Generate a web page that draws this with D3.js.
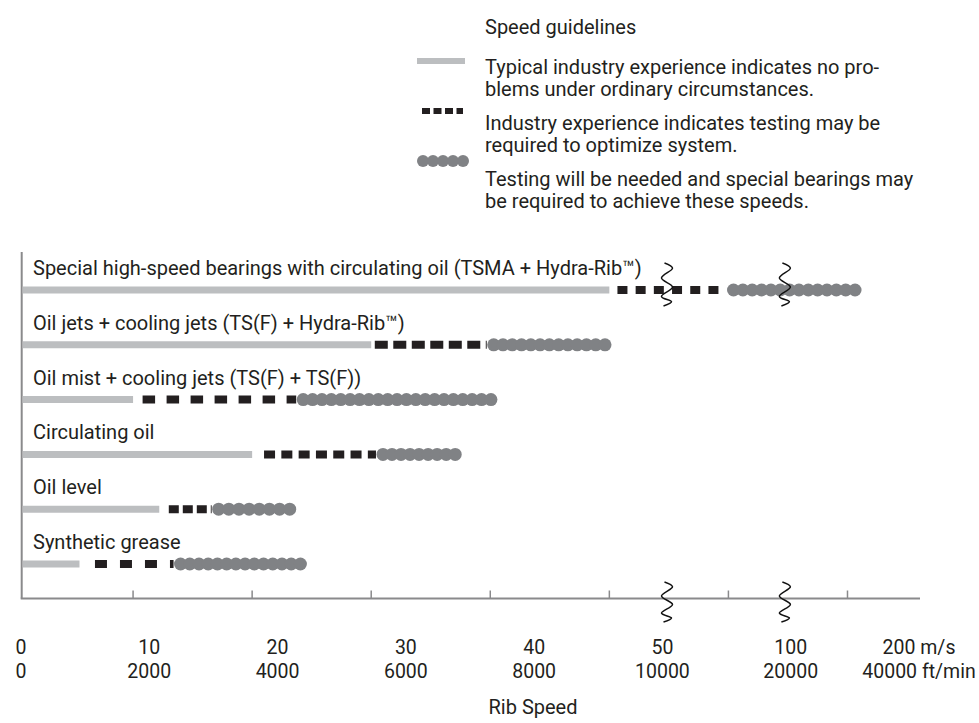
<!DOCTYPE html>
<html><head><meta charset="utf-8">
<script src="https://cdn.jsdelivr.net/npm/d3@7"></script>
<style>
body{margin:0;background:#fff}
svg{display:block}
text{font-family:Roboto,"Liberation Sans",sans-serif;fill:#231f20;font-size:20px}
text.mps,text.fpm{font-size:19.5px}
</style>
</head><body>
<svg id="chart" width="979" height="723"></svg>
<script>
// ---- data ----
const categories = [
  "Special high-speed bearings with circulating oil (TSMA + Hydra-Rib™)",
  "Oil jets + cooling jets (TS(F) + Hydra-Rib™)",
  "Oil mist + cooling jets (TS(F) + TS(F))",
  "Circulating oil",
  "Oil level",
  "Synthetic grease"
];
const greyEnd   = [50, 30, 10, 20, 12.2, 5.5];
const dashStart = [53.4, 30.3, 10.8, 21, 13, 6.8];
const dashEnd   = [99.2, 39.7, 23.7, 30.4, 16.6, 13.4];
const dotEnd    = [211.8, 50.9, 40.6, 37.6, 23.7, 24.6];
const tickValues = [10, 20, 30, 40, 50, 100, 200];
const breakValues = [74, 147];
const mpsLabels = ["0", "10", "20", "30", "40", "50", "100", "200 m/s"];
const fpmLabels = ["0", "2000", "4000", "6000", "8000", "10000", "20000", "40000 ft/min"];
const legendTitle = "Speed guidelines";
const legendTexts = [
  ["Typical industry experience indicates no pro-", "blems under ordinary circumstances."],
  ["Industry experience indicates testing may be", "required to optimize system."],
  ["Testing will be needed and special bearings may", "be required to achieve these speeds."]
];
const axisTitle = "Rib Speed";

// ---- styles ----
const C_GREY = "#bcbec0", C_DASH = "#231f20", C_DOT = "#808285", C_AXIS = "#8a8a8c";
const dashPatterns = ["10,8.2", "13,5.5", "12.5,11.5", "11,6.3", "10,4", "12,13"];

const svg = d3.select("#chart");

// scales
const x0 = 14, step = 119.07;
const x = d3.scaleLinear().domain([0, 50, 100, 200]).range([x0, x0 + 5 * step, x0 + 6 * step, x0 + 7 * step]);
const axisX = 21.7, axisY = 598.5, axisTop = 252, axisRight = 920;
const y = d3.scalePoint().domain(categories).range([290, 564]);
const labelX = d3.scalePoint().domain(d3.range(mpsLabels.length)).range([21, 919]);

// axis lines
svg.append("line").attr("x1", axisX).attr("x2", axisX).attr("y1", axisTop).attr("y2", axisY)
  .attr("stroke", C_AXIS).attr("stroke-width", 2);
svg.append("line").attr("x1", axisX - 1).attr("x2", axisRight).attr("y1", axisY).attr("y2", axisY)
  .attr("stroke", C_AXIS).attr("stroke-width", 2);
svg.selectAll(".tick").data(tickValues).join("line")
  .attr("x1", d => x(d)).attr("x2", d => x(d)).attr("y1", axisY - 8).attr("y2", axisY)
  .attr("stroke", C_AXIS).attr("stroke-width", 1.5);

// rows
const rows = categories.map((c, i) => ({c, i, g: greyEnd[i], ds: dashStart[i], de: dashEnd[i], e: dotEnd[i]}));
const row = svg.selectAll(".row").data(rows).join("g").attr("class", "row");
row.append("text").attr("x", 33).attr("y", d => y(d.c) - 15).text(d => d.c);
row.append("line").attr("x1", axisX + 1).attr("x2", d => x(d.g))
  .attr("y1", d => y(d.c)).attr("y2", d => y(d.c)).attr("stroke", C_GREY).attr("stroke-width", 7);
row.append("line").attr("x1", d => x(d.ds)).attr("x2", d => x(d.de))
  .attr("y1", d => y(d.c)).attr("y2", d => y(d.c)).attr("stroke", C_DASH).attr("stroke-width", 8)
  .attr("stroke-dasharray", d => dashPatterns[d.i]);
row.each(function(d) {
  const r = 6.5;
  const a = x(d.de) + r + 0.5, b = x(d.e) - r;
  const n = Math.max(1, Math.round((b - a) / 9.5));
  const centers = d3.range(n + 1).map(k => a + (b - a) * k / n);
  d3.select(this).selectAll("circle").data(centers).join("circle")
    .attr("cx", cx => cx).attr("cy", y(d.c)).attr("r", r).attr("fill", C_DOT);
});

// break squiggles
function squiggle(cx, y0, h) {
  const pts = [[-2,0],[6,0.12],[-5,0.35],[6,0.56],[-5,0.78],[5,0.9],[-3,1]]
    .map(p => [cx + p[0], y0 + p[1] * h]);
  return d3.line().curve(d3.curveCatmullRom)(pts);
}
breakValues.forEach(v => {
  svg.append("path").attr("d", squiggle(x(v), 582, 40)).attr("fill", "none")
    .attr("stroke", "#111").attr("stroke-width", 1.5);
  svg.append("path").attr("d", squiggle(x(v), y(categories[0]) - 27, 43)).attr("fill", "none")
    .attr("stroke", "#111").attr("stroke-width", 1.5);
});

// tick labels
svg.selectAll(".mps").data(mpsLabels).join("text").attr("class", "mps")
  .attr("x", (d, i) => labelX(i)).attr("y", 654).attr("text-anchor", "middle").text(d => d);
svg.selectAll(".fpm").data(fpmLabels).join("text").attr("class", "fpm")
  .attr("x", (d, i) => labelX(i)).attr("y", 678).attr("text-anchor", "middle").text(d => d);
svg.append("text").attr("x", 533).attr("y", 714).attr("text-anchor", "middle").text(axisTitle);

// legend
const lg = svg.append("g");
lg.append("text").attr("x", 485).attr("y", 34).text(legendTitle);
const lgY = [74, 130, 186];
legendTexts.forEach((lines, i) => {
  lines.forEach((t, j) => lg.append("text").attr("x", 485).attr("y", lgY[i] + j * 22).text(t));
});
lg.append("line").attr("x1", 417).attr("x2", 465).attr("y1", 61).attr("y2", 61)
  .attr("stroke", C_GREY).attr("stroke-width", 6);
lg.append("line").attr("x1", 422).attr("x2", 463).attr("y1", 111).attr("y2", 111)
  .attr("stroke", C_DASH).attr("stroke-width", 6).attr("stroke-dasharray", "8,3.5");
lg.selectAll(".ldot").data(d3.range(5)).join("circle")
  .attr("cx", k => 423 + k * 10).attr("cy", 161).attr("r", 6).attr("fill", C_DOT);
</script>
</body></html>
